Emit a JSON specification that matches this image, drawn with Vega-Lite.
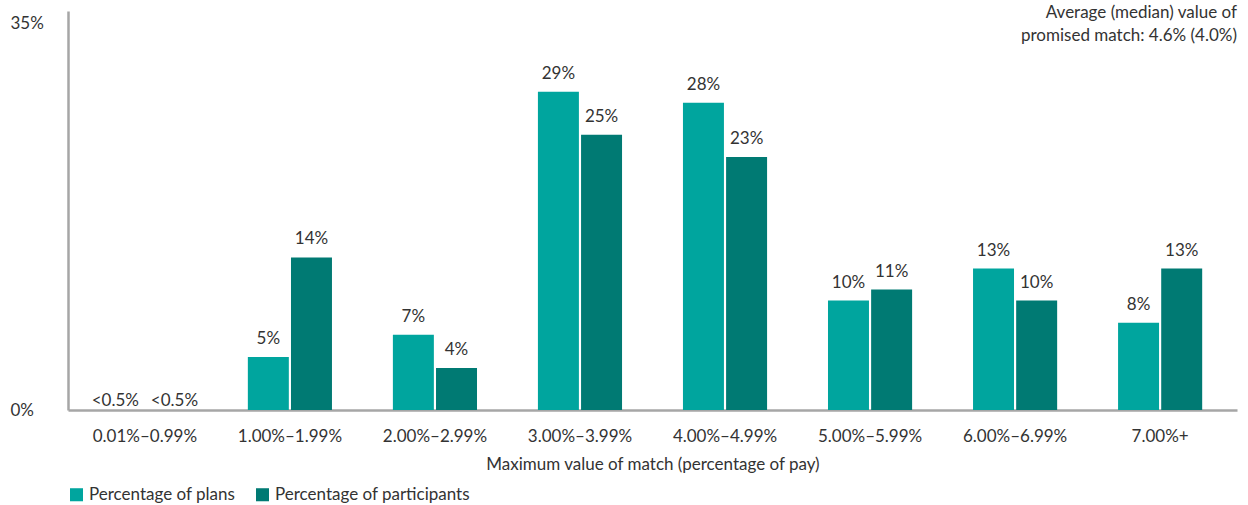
{
  "$schema": "https://vega.github.io/schema/vega-lite/v6.json",
  "width": 1169,
  "height": 399,
  "autosize": {"type": "none"},
  "padding": {"left": 68, "top": 11, "right": 11, "bottom": 95},
  "background": "white",
  "config": {
    "font": "Lato",
    "view": {"stroke": null},
    "axis": {"labelColor": "#333333", "titleColor": "#333333", "labelFont": "Lato", "titleFont": "Lato"}
  },
  "title": {
    "text": ["Average (median) value of", "promised match: 4.6% (4.0%)"],
    "anchor": "end",
    "frame": "group",
    "orient": "top",
    "baseline": "bottom",
    "offset": 0,
    "dy": 51,
    "fontSize": 17,
    "fontWeight": "normal",
    "lineHeight": 23,
    "color": "#333333",
    "font": "Lato"
  },
  "data": {
    "values": [
      {"range": "0.01%–0.99%", "series": "Percentage of plans", "value": 0, "label": "<0.5%"},
      {"range": "0.01%–0.99%", "series": "Percentage of participants", "value": 0, "label": "<0.5%"},
      {"range": "1.00%–1.99%", "series": "Percentage of plans", "value": 4.8, "label": "5%"},
      {"range": "1.00%–1.99%", "series": "Percentage of participants", "value": 13.8, "label": "14%"},
      {"range": "2.00%–2.99%", "series": "Percentage of plans", "value": 6.8, "label": "7%"},
      {"range": "2.00%–2.99%", "series": "Percentage of participants", "value": 3.8, "label": "4%"},
      {"range": "3.00%–3.99%", "series": "Percentage of plans", "value": 28.8, "label": "29%"},
      {"range": "3.00%–3.99%", "series": "Percentage of participants", "value": 24.9, "label": "25%"},
      {"range": "4.00%–4.99%", "series": "Percentage of plans", "value": 27.8, "label": "28%"},
      {"range": "4.00%–4.99%", "series": "Percentage of participants", "value": 22.9, "label": "23%"},
      {"range": "5.00%–5.99%", "series": "Percentage of plans", "value": 9.9, "label": "10%"},
      {"range": "5.00%–5.99%", "series": "Percentage of participants", "value": 10.9, "label": "11%"},
      {"range": "6.00%–6.99%", "series": "Percentage of plans", "value": 12.8, "label": "13%"},
      {"range": "6.00%–6.99%", "series": "Percentage of participants", "value": 9.9, "label": "10%"},
      {"range": "7.00%+", "series": "Percentage of plans", "value": 7.9, "label": "8%"},
      {"range": "7.00%+", "series": "Percentage of participants", "value": 12.8, "label": "13%"}
    ]
  },
  "encoding": {
    "x": {
      "field": "range",
      "type": "nominal",
      "sort": null,
      "scale": {"paddingInner": 0.42, "paddingOuter": 0.24},
      "axis": {
        "title": "Maximum value of match (percentage of pay)",
        "labelAngle": 0,
        "labelFontSize": 17,
        "labelPadding": 18,
        "ticks": false,
        "domainColor": "#A6A6A6",
        "domainWidth": 2.5,
        "titleFontSize": 17,
        "titleFontWeight": "normal",
        "titlePadding": 12
      }
    },
    "xOffset": {
      "field": "series",
      "type": "nominal",
      "sort": ["Percentage of plans", "Percentage of participants"],
      "scale": {"paddingInner": 0.05}
    },
    "y": {
      "field": "value",
      "type": "quantitative",
      "scale": {"domain": [0, 36.1], "nice": false},
      "axis": {
        "title": null,
        "values": [0, 35],
        "labelExpr": "datum.value + '%'",
        "grid": false,
        "ticks": false,
        "labelAlign": "left",
        "labelPadding": 58,
        "labelFontSize": 17,
        "domainColor": "#A6A6A6",
        "domainWidth": 2.5
      }
    }
  },
  "layer": [
    {
      "mark": {"type": "bar"},
      "encoding": {
        "color": {
          "field": "series",
          "type": "nominal",
          "sort": ["Percentage of plans", "Percentage of participants"],
          "scale": {"domain": ["Percentage of plans", "Percentage of participants"], "range": ["#00A59E", "#007A73"]},
          "legend": {
            "title": null,
            "orient": "none",
            "legendX": 0,
            "legendY": 475,
            "direction": "horizontal",
            "symbolType": "square",
            "symbolSize": 170,
            "symbolStrokeWidth": 0,
            "labelFontSize": 17,
            "labelLimit": 300,
            "labelColor": "#333333",
            "labelFont": "Lato",
            "columnPadding": 18
          }
        }
      }
    },
    {
      "transform": [{"filter": "datum.value > 0"}],
      "mark": {"type": "text", "baseline": "alphabetic", "dy": -13, "fontSize": 17, "color": "#333333", "font": "Lato"},
      "encoding": {"text": {"field": "label"}}
    },
    {
      "transform": [{"filter": "datum.value == 0 && datum.series == 'Percentage of plans'"}],
      "mark": {"type": "text", "baseline": "alphabetic", "dy": -4, "dx": -8, "fontSize": 17, "color": "#333333", "font": "Lato"},
      "encoding": {"text": {"field": "label"}}
    },
    {
      "transform": [{"filter": "datum.value == 0 && datum.series == 'Percentage of participants'"}],
      "mark": {"type": "text", "baseline": "alphabetic", "dy": -4, "dx": 8, "fontSize": 17, "color": "#333333", "font": "Lato"},
      "encoding": {"text": {"field": "label"}}
    }
  ]
}
